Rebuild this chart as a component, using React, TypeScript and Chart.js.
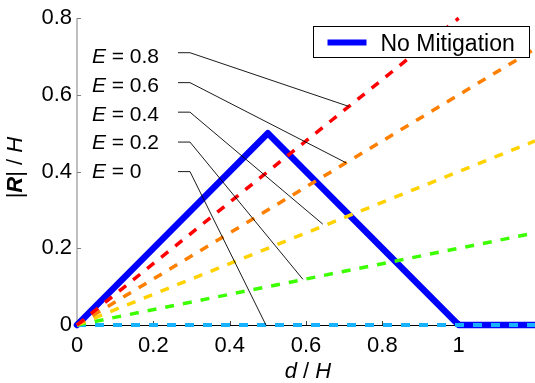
import React, { useEffect, useRef } from "react";
import { Chart, registerables } from "chart.js";

Chart.register(...registerables);

const FONT = "'Liberation Sans', Arial, Helvetica, sans-serif";

// Axes
const X_MIN = 0;
const X_MAX = 1.2;
const Y_MIN = 0;
const Y_MAX = 0.8;
const xTicks = [0, 0.2, 0.4, 0.6, 0.8, 1];
const yTicks = [0, 0.2, 0.4, 0.6, 0.8];

// "No Mitigation" series
const noMitLabel = "No Mitigation";
const noMitX = [0, 0.5, 1, 1.2];
const noMitY = [0, 0.5, 0, 0];

// Dashed E series (start at origin, end point)
const eValues = [0.8, 0.6, 0.4, 0.2, 0];
const eColors = ["#ff0000", "#ff8000", "#ffd200", "#3cff00", "#19b2ff"];
const eStartX = [0, 0, 0, 0, 0];
const eStartY = [0, 0, 0, 0, 0];
const eEndX = [1.0, 1.2, 1.2, 1.2, 1.2];
const eEndY = [0.8, 0.72, 0.48, 0.24, 0];

// Annotation callouts (data coordinates)
const annLabelY = [0.71, 0.632, 0.555, 0.477, 0.4];
const annTextY = [0.682, 0.608, 0.533, 0.46, 0.383];
const annTargetX = [0.712, 0.705, 0.644, 0.592, 0.495];
const annTargetY = [0.57, 0.423, 0.263, 0.119, 0];
const ANN_TEXT_X = 0.039;
const ANN_LINE_START_X = 0.2646;
const ANN_KINK_X = 0.296;

const fmt = (v: number) => String(Number(v.toFixed(2)));

function drawRich(
  ctx: CanvasRenderingContext2D,
  parts: { t: string; f: string }[],
  x: number,
  y: number,
  align: "left" | "center"
) {
  let total = 0;
  const widths = parts.map((p) => {
    ctx.font = p.f;
    const w = ctx.measureText(p.t).width;
    total += w;
    return w;
  });
  let cx = align === "center" ? x - total / 2 : x;
  ctx.textAlign = "left";
  parts.forEach((p, i) => {
    ctx.font = p.f;
    ctx.fillText(p.t, cx, y);
    cx += widths[i];
  });
}

const axesPlugin = {
  id: "matlabAxes",
  beforeDatasetsDraw(chart: any) {
    const { ctx, chartArea: a, scales } = chart;
    ctx.save();
    ctx.lineWidth = 1;
    ctx.strokeStyle = "#808080";
    ctx.beginPath();
    ctx.moveTo(a.left, a.top);
    ctx.lineTo(a.left, a.bottom);
    ctx.stroke();
    yTicks.forEach((v) => {
      const py = Math.round(scales.y.getPixelForValue(v)) + 0.5;
      ctx.beginPath();
      ctx.moveTo(a.left, py);
      ctx.lineTo(a.left + 4, py);
      ctx.stroke();
    });
    ctx.strokeStyle = "#000";
    ctx.beginPath();
    ctx.moveTo(a.left, a.bottom + 0.5);
    ctx.lineTo(a.right, a.bottom + 0.5);
    ctx.stroke();
    ctx.strokeStyle = "#404040";
    xTicks.forEach((v) => {
      const px = Math.round(scales.x.getPixelForValue(v)) + 0.5;
      ctx.beginPath();
      ctx.moveTo(px, a.bottom);
      ctx.lineTo(px, a.bottom - 4);
      ctx.stroke();
    });
    ctx.restore();
  },
};

const overlayPlugin = {
  id: "overlay",
  afterDatasetsDraw(chart: any) {
    const { ctx, chartArea: a, scales } = chart;
    const X = (v: number) => scales.x.getPixelForValue(v);
    const Y = (v: number) => scales.y.getPixelForValue(v);
    ctx.save();
    // callouts
    ctx.strokeStyle = "#000";
    ctx.lineWidth = 0.9;
    ctx.fillStyle = "#000";
    ctx.textBaseline = "alphabetic";
    eValues.forEach((e, i) => {
      const ly = Y(annLabelY[i]);
      ctx.beginPath();
      ctx.moveTo(X(ANN_LINE_START_X), ly);
      ctx.lineTo(X(ANN_KINK_X), ly);
      ctx.lineTo(X(annTargetX[i]), Y(annTargetY[i]));
      ctx.stroke();
      drawRich(
        ctx,
        [
          { t: "E", f: `italic 21px ${FONT}` },
          { t: " = " + fmt(e), f: `21px ${FONT}` },
        ],
        X(ANN_TEXT_X),
        Y(annTextY[i]),
        "left"
      );
    });

    // legend
    const bx = Math.round(a.right - 6) + 0.5;
    const by = Math.round(a.top + 8) + 0.5;
    const bw = 216;
    const bh = 31;
    ctx.fillStyle = "#fff";
    ctx.fillRect(bx - bw, by, bw, bh);
    ctx.strokeStyle = "#000";
    ctx.lineWidth = 1;
    ctx.strokeRect(bx - bw, by, bw, bh);
    const ds = chart.data.datasets[0];
    ctx.strokeStyle = ds.borderColor;
    ctx.lineWidth = 6;
    ctx.beginPath();
    ctx.moveTo(bx - bw + 14, by + 16);
    ctx.lineTo(bx - bw + 53, by + 16);
    ctx.stroke();
    ctx.fillStyle = "#000";
    ctx.font = `23px ${FONT}`;
    ctx.textAlign = "left";
    ctx.textBaseline = "alphabetic";
    ctx.fillText(ds.label, bx - bw + 67, by + 24);

    ctx.restore();
  },
  afterDraw(chart: any) {
    const { ctx, chartArea: a } = chart;
    ctx.save();
    ctx.fillStyle = "#000";
    ctx.textBaseline = "alphabetic";
    // x title
    drawRich(
      ctx,
      [
        { t: "d", f: `italic 22px ${FONT}` },
        { t: " / ", f: `22px ${FONT}` },
        { t: "H", f: `italic 22px ${FONT}` },
      ],
      (a.left + a.right) / 2 + 2,
      378,
      "center"
    );
    // y title
    ctx.translate(22, (a.top + a.bottom) / 2 - 4);
    ctx.rotate(-Math.PI / 2);
    drawRich(
      ctx,
      [
        { t: "|", f: `22px ${FONT}` },
        { t: "R", f: `italic bold 22px ${FONT}` },
        { t: "| / ", f: `22px ${FONT}` },
        { t: "H", f: `italic 22px ${FONT}` },
      ],
      0,
      0,
      "center"
    );
    ctx.restore();
  },
};

export default function App() {
  const ref = useRef<HTMLCanvasElement>(null);

  useEffect(() => {
    document.body.style.margin = "0";
    const canvas = ref.current;
    if (!canvas) return;

    const datasets: any[] = [
      {
        label: noMitLabel,
        data: noMitX.map((x, i) => ({ x, y: noMitY[i] })),
        borderColor: "#0000ff",
        backgroundColor: "#0000ff",
        borderWidth: 6.5,
        borderJoinStyle: "round",
        borderCapStyle: "round",
        pointRadius: 0,
        fill: false,
        clip: 8,
        order: 10,
      },
      ...eValues.map((e, i) => ({
        label: "E = " + fmt(e),
        data: [
          { x: eStartX[i], y: eStartY[i] },
          { x: eEndX[i], y: eEndY[i] },
        ],
        borderColor: eColors[i],
        backgroundColor: eColors[i],
        borderWidth: i === 4 ? 4 : 3.5,
        borderDash: [9, 9],
        pointRadius: 0,
        fill: false,
        clip: i === 4 ? 8 : 2,
        order: i,
      })),
    ];

    const chart = new Chart(canvas, {
      type: "line",
      data: { datasets },
      options: {
        responsive: false,
        animation: false,
        devicePixelRatio: 1,
        layout: { padding: { top: 15, right: 0, left: 0, bottom: 0 } },
        plugins: {
          legend: { display: false },
          tooltip: { enabled: false },
        },
        scales: {
          x: {
            type: "linear",
            min: X_MIN,
            max: X_MAX,
            grid: { display: false, drawTicks: false },
            border: { display: false },
            afterBuildTicks: (s: any) => {
              s.ticks = xTicks.map((v) => ({ value: v }));
            },
            afterFit: (s: any) => {
              s.height = 58;
            },
            ticks: {
              color: "#000",
              font: { family: FONT, size: 22 },
              padding: 8,
              maxRotation: 0,
              autoSkip: false,
              callback: (v: any) => fmt(Number(v)),
            },
          },
          y: {
            type: "linear",
            min: Y_MIN,
            max: Y_MAX,
            grid: { display: false, drawTicks: false },
            border: { display: false },
            afterBuildTicks: (s: any) => {
              s.ticks = yTicks.map((v) => ({ value: v }));
            },
            afterFit: (s: any) => {
              s.width = 77;
            },
            ticks: {
              color: "#000",
              font: { family: FONT, size: 22 },
              padding: 5,
              autoSkip: false,
              callback: (v: any) => fmt(Number(v)),
            },
          },
        },
      } as any,
      plugins: [axesPlugin, overlayPlugin],
    });

    return () => chart.destroy();
  }, []);

  return (
    <div style={{ position: "absolute", left: 0, top: 0, width: 535, height: 383 }}>
      <canvas ref={ref} width={535} height={383} style={{ display: "block", width: 535, height: 383 }} />
    </div>
  );
}
